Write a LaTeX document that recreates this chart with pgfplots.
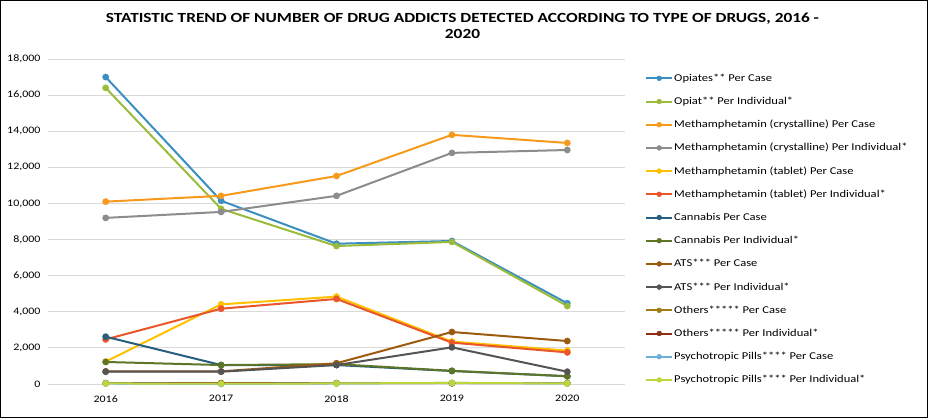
\documentclass[border=0pt]{standalone}
\usepackage{pgfplots}
\pgfplotsset{compat=1.18}
\usepackage{fontspec}
\setmainfont{Carlito}[FakeStretch=1.2]
\newfontfamily\titlefont{Carlito}[FakeStretch=1.24]

\definecolor{c1}{HTML}{3A8FC0}
\definecolor{c2}{HTML}{9BBB3B}
\definecolor{c3}{HTML}{F79A1C}
\definecolor{c4}{HTML}{8C8C8C}
\definecolor{c5}{HTML}{FFC000}
\definecolor{c6}{HTML}{E8562A}
\definecolor{c7}{HTML}{255E7E}
\definecolor{c8}{HTML}{5E7426}
\definecolor{c9}{HTML}{9C5A0F}
\definecolor{c10}{HTML}{545454}
\definecolor{c11}{HTML}{A07C14}
\definecolor{c12}{HTML}{8F3014}
\definecolor{c13}{HTML}{6FAED9}
\definecolor{c14}{HTML}{BCD63D}

\pgfplotsset{
  ser/.style={color=#1, line width=2bp, mark=*, mark size=3.1bp,
    mark options={fill=#1, draw=#1, line width=0.5bp}},
}

\begin{document}
\begin{tikzpicture}
\useasboundingbox (-48bp,-34bp) rectangle (880bp,384bp);
\begin{axis}[
  at={(0,0)}, anchor=south west,
  scale only axis, width=577bp, height=325bp,
  xmin=2015.5, xmax=2020.5, ymin=0, ymax=18000,
  xtick={2016,2017,2018,2019,2020},
  xticklabels={2016,2017,2018,2019,2020},
  ytick={0,2000,...,18000},
  scaled y ticks=false,
  /pgf/number format/assume math mode=true,
  /pgf/number format/fixed,
  /pgf/number format/1000 sep={,},
  ticklabel style={font=\fontsize{10}{12}\selectfont},
  yticklabel style={anchor=east, xshift=-4bp},
  xticklabel style={yshift=-8bp},
  axis line style={draw=none},
  tick style={draw=none},
  major tick length=0pt,
  ymajorgrids,
  grid style={draw=black!15, line width=0.8bp},
  clip=false,
  legend cell align=left,
  legend style={at={(1,1)}, anchor=north west, xshift=20bp, yshift=-7.5bp,
    draw=none, fill=none, inner sep=0pt, row sep=0pt,
    font=\fontsize{10.5}{12}\selectfont,
    nodes={inner sep=1bp, minimum height=23.2bp}},
  legend image code/.code={
    \draw[mark repeat=2, mark phase=2, mark size=2.4bp] plot coordinates {(0bp,0bp) (13bp,0bp) (26bp,0bp)};
  },
]
\addplot[ser=c1] coordinates {(2016,17000) (2017,10150) (2018,7770) (2019,7920) (2020,4470)};
\addlegendentry{Opiates** Per Case}
\addplot[ser=c2] coordinates {(2016,16400) (2017,9700) (2018,7640) (2019,7870) (2020,4320)};
\addlegendentry{Opiat** Per Individual*}
\addplot[ser=c3] coordinates {(2016,10100) (2017,10420) (2018,11520) (2019,13800) (2020,13350)};
\addlegendentry{Methamphetamin (crystalline) Per Case}
\addplot[ser=c4] coordinates {(2016,9200) (2017,9530) (2018,10420) (2019,12800) (2020,12960)};
\addlegendentry{Methamphetamin (crystalline) Per Individual*}
\addplot[ser=c5] coordinates {(2016,1240) (2017,4410) (2018,4840) (2019,2350) (2020,1850)};
\addlegendentry{Methamphetamin (tablet) Per Case}
\addplot[ser=c6] coordinates {(2016,2470) (2017,4170) (2018,4710) (2019,2290) (2020,1750)};
\addlegendentry{Methamphetamin (tablet) Per Individual*}
\addplot[ser=c7] coordinates {(2016,2620) (2017,1050) (2018,1050) (2019,720) (2020,430)};
\addlegendentry{Cannabis Per Case}
\addplot[ser=c8] coordinates {(2016,1220) (2017,1050) (2018,1100) (2019,730) (2020,430)};
\addlegendentry{Cannabis Per Individual*}
\addplot[ser=c9] coordinates {(2016,700) (2017,700) (2018,1150) (2019,2880) (2020,2380)};
\addlegendentry{ATS*** Per Case}
\addplot[ser=c10] coordinates {(2016,680) (2017,680) (2018,1050) (2019,2030) (2020,680)};
\addlegendentry{ATS*** Per Individual*}
\addplot[ser=c11] coordinates {(2016,50) (2017,50) (2018,50) (2019,50) (2020,50)};
\addlegendentry{Others***** Per Case}
\addplot[ser=c12] coordinates {(2016,40) (2017,40) (2018,40) (2019,40) (2020,40)};
\addlegendentry{Others***** Per Individual*}
\addplot[ser=c13] coordinates {(2016,30) (2017,0) (2018,30) (2019,60) (2020,30)};
\addlegendentry{Psychotropic Pills**** Per Case}
\addplot[ser=c14] coordinates {(2016,30) (2017,20) (2018,30) (2019,60) (2020,30)};
\addlegendentry{Psychotropic Pills**** Per Individual*}
\end{axis}
\node[font=\titlefont\bfseries\fontsize{14}{16}\selectfont, align=center] at (414.5bp,358bp)
  {STATISTIC TREND OF NUMBER OF DRUG ADDICTS DETECTED ACCORDING TO TYPE OF DRUGS, 2016 -\\2020};
\draw[line width=1bp] (-47.5bp,-33.5bp) rectangle (879.5bp,383.5bp);
\end{tikzpicture}
\end{document}
